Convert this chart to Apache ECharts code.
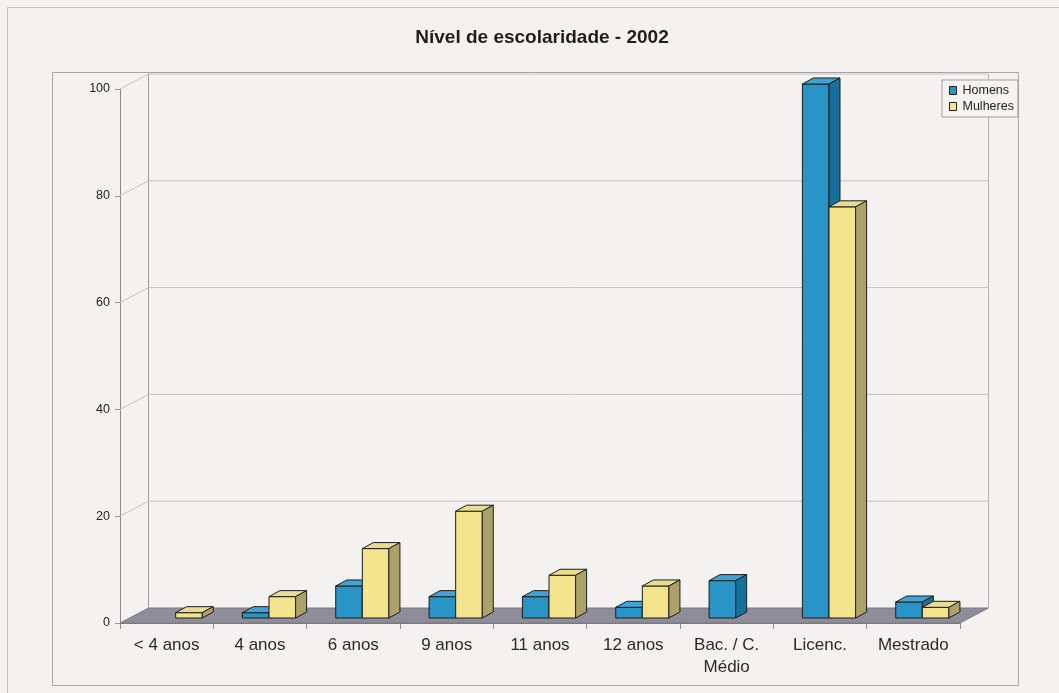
<!DOCTYPE html>
<html><head><meta charset="utf-8">
<script src="https://cdn.jsdelivr.net/npm/echarts@6/dist/echarts.min.js"></script>
<style>html,body{margin:0;padding:0;background:#f3f2f0;}#c{width:1059px;height:693px;}</style>
</head><body><div id="c"></div>
<script>
const title = 'Nível de escolaridade - 2002';
const categories = ['< 4 anos', '4 anos', '6 anos', '9 anos', '11 anos', '12 anos', 'Bac. / C.\nMédio', 'Licenc.', 'Mestrado'];
const seriesNames = ['Homens', 'Mulheres'];
const homens = [0, 1, 6, 4, 4, 2, 7, 100, 3];
const mulheres = [1, 4, 13, 20, 8, 6, 0, 77, 2];
const yTicks = [0, 20, 40, 60, 80, 100];

const FONT = '"Liberation Sans", Arial, Helvetica, sans-serif';
// depth geometry (pixels)
const DX = 28.5, DY = -15;        // full floor depth
const BX0 = 9, BY0 = -5;          // bar front plane offset
const BDX = 11, BDY = -6;         // bar depth
const BAR_FRAC = 0.285;           // bar width as fraction of category width

const palettes = [
  { front: '#2994c6', top: '#3ea4d4', side: '#16709b' },
  { front: '#f3e38c', top: '#e8dc8e', side: '#aaa26a' }
];

function barRender(si) {
  const pal = palettes[si];
  return function (params, api) {
    const i = api.value(0), v = api.value(1);
    if (!v) return null;
    const base = api.coord([i, 0]);
    const top = api.coord([i, v]);
    const cw = api.size([1, 0])[0];
    const w = cw * BAR_FRAC;
    const cx = base[0] + BX0;
    const x0 = si === 0 ? cx - w : cx;
    const x1 = x0 + w;
    const yb = base[1] + BY0, yt = top[1] + BY0;
    const st = (f) => ({ fill: f, stroke: '#1e1e1e', lineWidth: 1, lineJoin: 'round' });
    return { type: 'group', children: [
      { type: 'polygon', shape: { points: [[x0, yb], [x1, yb], [x1, yt], [x0, yt]] }, style: st(pal.front) },
      { type: 'polygon', shape: { points: [[x0, yt], [x1, yt], [x1 + BDX, yt + BDY], [x0 + BDX, yt + BDY]] }, style: st(pal.top) },
      { type: 'polygon', shape: { points: [[x1, yb], [x1 + BDX, yb + BDY], [x1 + BDX, yt + BDY], [x1, yt]] }, style: st(pal.side) }
    ]};
  };
}

function wallRender(params, api) {
  const cs = params.coordSys;
  const v = api.value(1);
  const p = api.coord([0, v]);
  const y = p[1];
  const children = [];
  if (v > 0) {
    children.push({ type: 'polyline', shape: { points: [[cs.x, y], [cs.x + DX, y + DY], [cs.x + cs.width + DX, y + DY]] },
      style: { stroke: '#c4c4c4', lineWidth: 1, fill: null } });
  }
  if (v === 0) {
    const yTop = api.coord([0, 100])[1];
    children.push({ type: 'line', shape: { x1: cs.x + DX, y1: y + DY, x2: cs.x + DX, y2: yTop + DY }, style: { stroke: '#9c9c9c', lineWidth: 1 } });
    children.push({ type: 'line', shape: { x1: cs.x + cs.width + DX, y1: y + DY, x2: cs.x + cs.width + DX, y2: yTop + DY }, style: { stroke: '#b4b4b4', lineWidth: 1 } });
    children.push({ type: 'polygon', shape: { points: [[cs.x, y], [cs.x + cs.width, y], [cs.x + cs.width + DX, y + DY], [cs.x + DX, y + DY]] },
      style: { fill: '#8e8d99', stroke: '#7d7c88', lineWidth: 1 } });
  }
  return { type: 'group', children };
}

const chart = echarts.init(document.getElementById('c'), null, { renderer: 'canvas' });
chart.setOption({
  backgroundColor: '#f3f2f0',
  animation: false,
  textStyle: { fontFamily: FONT },
  graphic: [
    { type: 'rect', shape: { x: 7.5, y: 7.5, width: 1100, height: 720 }, style: { fill: 'none', stroke: '#c2c2c2', lineWidth: 1 }, z: -10 },
    { type: 'rect', shape: { x: 52.5, y: 72.5, width: 966, height: 613 }, style: { fill: 'none', stroke: '#a6a6a6', lineWidth: 1 }, z: -10 },
    { type: 'text', x: 542, y: 38, style: { text: title, font: 'bold 19px ' + FONT, fill: '#1e1e1e', textAlign: 'center', textVerticalAlign: 'middle' } }
  ],
  legend: {
    orient: 'vertical', left: 942, top: 80,
    itemWidth: 7, itemHeight: 8, itemGap: 3,
    padding: [4, 4, 4, 7],
    backgroundColor: '#f5f4f2', borderColor: '#a0a0a0', borderWidth: 1,
    icon: 'rect',
    itemStyle: { borderColor: '#222', borderWidth: 1 },
    textStyle: { fontSize: 12.5, color: '#222', fontFamily: FONT, padding: [0, 0, 0, 1] },
    data: seriesNames
  },
  grid: { left: 120, right: 99, top: 89, bottom: 70, containLabel: false },
  xAxis: {
    type: 'category', data: categories,
    axisLine: { show: true, lineStyle: { color: '#777', width: 1 } },
    axisTick: { show: true, length: 6, lineStyle: { color: '#8a8a8a' } },
    axisLabel: { fontSize: 17, color: '#2a2a2a', margin: 11, lineHeight: 22, fontFamily: FONT, interval: 0 },
    splitLine: { show: false }
  },
  yAxis: {
    type: 'value', min: 0, max: 100, interval: 20,
    axisLine: { show: true, lineStyle: { color: '#8a8a8a', width: 1 } },
    axisTick: { show: true, length: 5, lineStyle: { color: '#9a9a9a' } },
    axisLabel: { fontSize: 12.5, color: '#222', margin: 10, fontFamily: FONT },
    splitLine: { show: false }
  },
  series: [
    { type: 'custom', name: '_wall', renderItem: wallRender, data: yTicks.map(v => [0, v]), encode: { x: 0, y: 1 }, z: 1, silent: true, legendHoverLink: false },
    { type: 'custom', name: seriesNames[0], renderItem: barRender(0), data: homens.map((v, i) => [i, v]), encode: { x: 0, y: 1 }, z: 3,
      itemStyle: { color: palettes[0].front, borderColor: '#222', borderWidth: 1 } },
    { type: 'custom', name: seriesNames[1], renderItem: barRender(1), data: mulheres.map((v, i) => [i, v]), encode: { x: 0, y: 1 }, z: 4,
      itemStyle: { color: palettes[1].front, borderColor: '#222', borderWidth: 1 } }
  ]
});
</script></body></html>
